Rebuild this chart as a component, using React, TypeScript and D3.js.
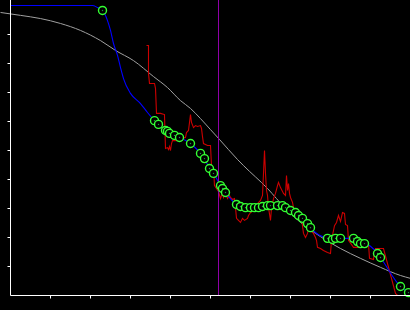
import React from "react";
import * as d3 from "d3";

const W = 410;
const H = 310;

// gray smooth reference curve [x, y]
const grayCurve: [number, number][] = [
  [-2.5, 97.6], [2.5, 96.6], [7.5, 95.5], [12.5, 93.8], [17.5, 91.4], [22.5, 87.9],
  [26.25, 84.5], [30.75, 81.0], [35.75, 75.5], [39.25, 71.7], [42.5, 67.2], [45, 64.5],
  [47.5, 61.0], [50, 57.2], [52.25, 53.8], [56.75, 46.9], [58.25, 44.8], [64.25, 36.9],
  [68.75, 30.0], [72.5, 25.2], [77.5, 20.3], [82.5, 16.2], [87.5, 12.8], [92.5, 9.7],
  [97.5, 6.9], [100, 5.9],
];

// blue curve lead-in before the marked points
const blueLead: [number, number][] = [
  [0, 100], [20.5, 100], [21.75, 99.3], [23, 98.3], [24.25, 94.8], [25, 91.4],
  [25.75, 86.9], [26.75, 82.8], [27.5, 78.6], [28.25, 74.8], [30, 69.7], [32.5, 66.2],
  [34.25, 63.1],
];

// marked points (green circles), also on the blue curve
const markers: [number, number][] = [
  [23, 98.3], [36, 60.3], [37, 59.0], [38.75, 56.9], [39.25, 56.6], [39.75, 55.9],
  [41, 55.2], [42.25, 54.5], [45, 52.4], [47.5, 49.0], [48.5, 47.2], [49.75, 43.8],
  [50.75, 42.1], [52.5, 37.9], [53, 36.9], [53.75, 35.5], [56.5, 31.4], [57.5, 30.7],
  [58.75, 30.3], [60, 30.3], [61, 30.3], [62, 30.3], [63, 30.7], [64.25, 31.0],
  [65, 31.0], [66.75, 31.0], [68, 31.0], [68.75, 30.3], [70, 29.3], [71.25, 28.6],
  [72, 27.6], [73, 26.6], [74.25, 24.8], [75, 23.4], [79.25, 19.7], [80.5, 19.3],
  [81.25, 19.7], [82.5, 19.7], [85.75, 19.7], [86.75, 18.6], [87.5, 17.9], [88.5, 17.9],
  [91.75, 14.5], [92.5, 13.1], [97.5, 3.1], [99.5, 1.0],
];

// red noisy step series
const redSeries: [number, number][] = [
  [34, 86.2], [34.5, 86.2], [34.5, 76.6], [34.75, 73.1], [36, 73.1], [36.25, 71.4],
  [36.5, 62.8], [37.5, 62.8], [38.5, 62.4], [38.5, 62.1], [38.75, 50.7], [39.25, 51.0],
  [39.5, 50.3], [39.75, 51.4], [40, 50.0], [40.25, 52.4], [40.5, 53.4], [41.75, 53.4],
  [42.5, 54.1], [43.75, 54.5], [44, 56.2], [44.5, 56.9], [45, 62.4], [45.25, 59.7],
  [45.75, 57.9], [46.25, 58.6], [46.75, 58.3], [47.5, 58.6], [47.75, 57.6], [48, 54.8],
  [48.25, 52.4], [49.25, 51.7], [50, 51.7], [50.25, 44.8], [50.75, 43.8], [51, 37.9],
  [52, 35.9], [52.5, 33.4], [53, 35.5], [53.25, 33.8], [53.75, 35.2], [54.25, 33.4],
  [54.75, 34.5], [55, 33.8], [55.5, 33.1], [56, 33.4], [56.25, 30.3], [56.5, 26.6],
  [57, 25.9], [57.5, 25.2], [58, 26.6], [58.5, 25.9], [59.25, 26.6], [59.5, 27.6],
  [60, 28.6], [60.5, 29.0], [60.75, 30.3], [61.75, 31.7], [62.5, 32.8], [63, 34.5],
  [63.25, 42.1], [63.5, 50.0], [63.75, 42.1], [64, 36.2], [64.25, 34.5], [64.5, 30.3],
  [65, 25.9], [65.25, 30.0], [65.75, 33.4], [66.25, 35.2], [66.75, 37.9], [67, 39.0],
  [67.5, 37.2], [68.25, 35.2], [68.75, 34.5], [69, 41.4], [69.25, 36.2], [69.5, 38.6],
  [69.75, 35.2], [70, 33.8], [70.5, 32.1], [70.75, 30.3], [71.25, 29.3], [72, 29.3],
  [72.5, 25.9], [72.75, 26.6], [73.25, 21.4], [73.75, 20.0], [74.25, 21.4], [74.5, 23.1],
  [75, 22.4], [75.75, 21.4], [76.25, 20.0], [76.5, 19.0], [76.75, 16.6], [77.5, 16.2],
  [78.25, 15.5], [79.25, 14.8], [80, 14.5], [80.25, 19.0], [80.5, 20.7], [81, 24.1],
  [81.5, 25.2], [82, 27.6], [82.5, 25.5], [83, 28.6], [83.5, 28.3], [83.75, 24.5],
  [84.25, 24.1], [84.5, 19.0], [85.75, 16.6], [88.75, 16.6], [89, 17.9], [89.5, 17.9],
  [89.75, 12.8], [90.75, 12.4], [91, 15.5], [91.25, 16.2], [93.25, 16.2], [96.25, 0.7],
  [96.75, 0], [100, 0],
];

const xTicks = [10, 20, 30, 40, 50, 60, 70, 80, 90];
const yTicks = [10, 20, 30, 40, 50, 60, 70, 80, 90];
const markerLineX = 52;

export default function App() {
  const x = d3.scaleLinear().domain([0, 100]).range([10.5, 410.5]);
  const y = d3.scaleLinear().domain([0, 100]).range([295.5, 5.5]);

  const smooth = d3
    .line<[number, number]>()
    .x((d) => x(d[0]))
    .y((d) => y(d[1]))
    .curve(d3.curveMonotoneX);
  const straight = d3
    .line<[number, number]>()
    .x((d) => x(d[0]))
    .y((d) => y(d[1]));

  const blueAll = blueLead.concat(markers.slice(1));

  return (
    <>
      <style>{`body{margin:0;background:#000}`}</style>
      <svg width={W} height={H} style={{ display: "block", background: "#000" }}>
        <rect x={0} y={0} width={W} height={H} fill="#000" />
        <path d={smooth(grayCurve) || ""} fill="none" stroke="#a0a0a0" strokeWidth={1} />
        <path d={straight(redSeries) || ""} fill="none" stroke="#cc0000" strokeWidth={1.1} />
        <path d={smooth(blueAll) || ""} fill="none" stroke="#0000ff" strokeWidth={1.1} />
        <line
          x1={x(markerLineX)}
          x2={x(markerLineX)}
          y1={0}
          y2={y(0)}
          stroke="#9000a8"
          strokeWidth={1}
        />
        {markers.map((d, i) => (
          <g key={i}>
            <circle cx={x(d[0])} cy={y(d[1])} r={4} fill="#000" stroke="#33ff33" strokeWidth={1.4} />
            <circle cx={x(d[0])} cy={y(d[1])} r={0.7} fill="#1a9a40" />
          </g>
        ))}
        {/* axes */}
        <line x1={x(0)} x2={x(0)} y1={0} y2={y(0)} stroke="#fff" strokeWidth={1} />
        <line x1={x(0)} x2={W} y1={y(0)} y2={y(0)} stroke="#fff" strokeWidth={1} />
        {yTicks.map((t) => (
          <line key={"y" + t} x1={x(0) - 3} x2={x(0)} y1={y(t)} y2={y(t)} stroke="#fff" strokeWidth={1} />
        ))}
        {xTicks.map((t) => (
          <line key={"x" + t} x1={x(t)} x2={x(t)} y1={y(0)} y2={y(0) + 3} stroke="#fff" strokeWidth={1} />
        ))}
      </svg>
    </>
  );
}
